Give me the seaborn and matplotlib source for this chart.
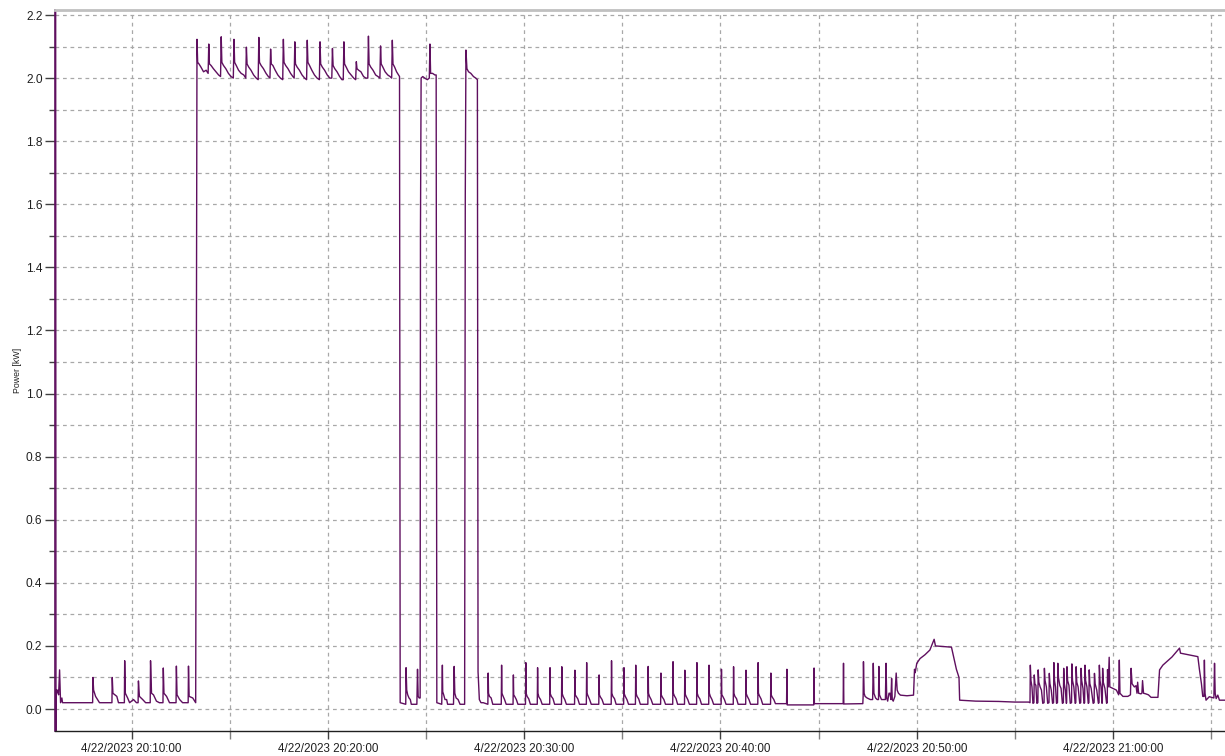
import matplotlib
matplotlib.use("Agg")
import matplotlib.pyplot as plt
import matplotlib.dates as mdates
from matplotlib.ticker import MultipleLocator, FuncFormatter
import pandas as pd
import seaborn as sns

# ---- data: (seconds after 4/22/2023 20:00:00, power in kW) ----
idle_start = [
    (368, 2.30), (369, -0.10), (370, 0.06), (371, 0.05), (374, 0.06), (377, 0.045),
    (380, 0.124), (383, 0.02), (387, 0.035), (389, 0.02), (481, 0.02), (482, 0.10),
    (484, 0.06), (490, 0.04), (502, 0.02), (540, 0.02), (541, 0.10), (543, 0.05),
    (555, 0.04), (560, 0.02), (578, 0.02), (579, 0.153), (581, 0.05), (588, 0.035),
    (594, 0.02), (606, 0.03), (615, 0.02), (620, 0.02), (621, 0.089), (624, 0.04),
    (634, 0.03), (643, 0.02), (657, 0.02), (658, 0.153), (661, 0.05), (667, 0.045),
    (676, 0.025), (685, 0.02), (696, 0.02), (697, 0.13), (699, 0.05), (707, 0.04),
    (716, 0.02), (736, 0.02), (737, 0.136), (739, 0.045), (747, 0.03), (756, 0.02),
    (773, 0.02), (774, 0.136), (776, 0.04), (787, 0.035), (796, 0.02), (798, 1.07),
]

heat_block_1 = [
    (800, 2.123), (802, 2.05), (806, 2.045), (812, 2.035), (820, 2.02), (828, 2.025), (834, 2.015),
    (836, 2.108), (838, 2.045), (843, 2.04), (850, 2.03), (858, 2.02), (866, 2.01), (872, 2.005),
    (874, 2.131), (876, 2.05), (881, 2.04), (888, 2.03), (896, 2.015), (904, 2.005), (911, 2.0),
    (913, 2.123), (915, 2.05), (920, 2.04), (927, 2.025), (935, 2.015), (943, 2.01), (949, 2.0),
    (951, 2.098), (953, 2.045), (958, 2.035), (965, 2.025), (973, 2.01), (981, 2.0), (987, 1.995),
    (989, 2.129), (991, 2.05), (996, 2.04), (1003, 2.03), (1011, 2.015), (1018, 2.005), (1023, 2.0),
    (1025, 2.092), (1027, 2.045), (1032, 2.04), (1039, 2.025), (1047, 2.01), (1055, 2.0), (1062, 1.995),
    (1064, 2.123), (1066, 2.05), (1071, 2.04), (1078, 2.03), (1086, 2.015), (1093, 2.005), (1097, 2.0),
    (1099, 2.115), (1101, 2.045), (1106, 2.035), (1113, 2.025), (1121, 2.01), (1129, 2.0), (1135, 1.995),
    (1137, 2.12), (1139, 2.05), (1144, 2.04), (1151, 2.025), (1159, 2.01), (1167, 2.0), (1174, 1.995),
    (1176, 2.115), (1178, 2.045), (1183, 2.035), (1190, 2.025), (1198, 2.01), (1206, 2.0), (1212, 2.0),
    (1214, 2.094), (1216, 2.04), (1221, 2.03), (1228, 2.02), (1236, 2.005), (1243, 1.995), (1247, 1.995),
    (1249, 2.115), (1251, 2.045), (1256, 2.035), (1263, 2.02), (1271, 2.01), (1279, 2.0), (1285, 1.995),
    (1287, 2.052), (1289, 2.03), (1294, 2.025), (1301, 2.02), (1309, 2.005), (1316, 2.0), (1322, 2.0),
    (1324, 2.133), (1326, 2.045), (1331, 2.035), (1338, 2.025), (1346, 2.01), (1353, 2.005), (1359, 2.0),
    (1361, 2.102), (1363, 2.045), (1368, 2.035), (1375, 2.02), (1383, 2.01), (1390, 2.005), (1395, 2.0),
    (1397, 2.12), (1399, 2.045), (1404, 2.035), (1410, 2.02), (1416, 2.01), (1419, 2.005),
]

gap_1 = [
    (1421, 0.02), (1438, 0.015), (1439, 0.131), (1441, 0.06), (1444, 0.045), (1448, 0.035),
    (1452, 0.03), (1455, 0.015), (1472, 0.015), (1474, 0.126), (1476, 0.04), (1479, 0.035),
    (1482, 0.035), (1483, 1.513), (1485, 2.0),
]

heat_block_2 = [
    (1490, 2.005), (1496, 2.0), (1504, 1.995), (1510, 2.0), (1512, 2.108), (1514, 2.015),
    (1520, 2.015), (1527, 2.01), (1531, 2.01), (1533, 0.02),
]

gap_2 = [
    (1548, 0.015), (1550, 0.139), (1551, 0.055), (1554, 0.045), (1558, 0.03), (1563, 0.03),
    (1566, 0.015), (1584, 0.015), (1586, 0.135), (1588, 0.05), (1592, 0.035), (1598, 0.03),
    (1604, 0.015), (1618, 0.015), (1620, 1.63), (1622, 2.089), (1625, 2.03), (1630, 2.02),
    (1637, 2.015), (1645, 2.005), (1652, 2.0), (1657, 1.995), (1659, 0.118), (1663, 0.03),
    (1668, 0.02),
]

idle_cycles = [
    (1675, 0.02), (1689, 0.015), (1690, 0.114), (1691, 0.05), (1694, 0.04), (1699, 0.035), (1704, 0.015),
    (1730, 0.015), (1731, 0.139), (1732, 0.05), (1735, 0.042), (1740, 0.03), (1745, 0.015),
    (1766, 0.015), (1767, 0.108), (1768, 0.045), (1771, 0.04), (1776, 0.03), (1781, 0.015),
    (1804, 0.015), (1805, 0.147), (1806, 0.05), (1809, 0.04), (1814, 0.032), (1819, 0.015),
    (1840, 0.015), (1841, 0.131), (1842, 0.05), (1845, 0.038), (1850, 0.03), (1855, 0.015),
    (1878, 0.015), (1879, 0.131), (1880, 0.048), (1883, 0.04), (1888, 0.033), (1893, 0.015),
    (1914, 0.015), (1915, 0.134), (1916, 0.05), (1919, 0.04), (1924, 0.03), (1929, 0.015),
    (1954, 0.015), (1955, 0.123), (1956, 0.045), (1959, 0.04), (1964, 0.032), (1969, 0.015),
    (1990, 0.015), (1991, 0.147), (1992, 0.05), (1995, 0.042), (2000, 0.03), (2005, 0.015),
    (2028, 0.015), (2029, 0.108), (2030, 0.045), (2033, 0.038), (2038, 0.03), (2043, 0.015),
    (2066, 0.015), (2067, 0.153), (2068, 0.05), (2071, 0.04), (2076, 0.033), (2081, 0.015),
    (2104, 0.015), (2105, 0.131), (2106, 0.048), (2109, 0.04), (2114, 0.03), (2119, 0.015),
    (2140, 0.015), (2141, 0.139), (2142, 0.05), (2145, 0.04), (2150, 0.032), (2155, 0.015),
    (2178, 0.015), (2179, 0.135), (2180, 0.05), (2183, 0.04), (2188, 0.03), (2193, 0.015),
    (2217, 0.015), (2218, 0.114), (2219, 0.045), (2222, 0.038), (2227, 0.03), (2232, 0.015),
    (2254, 0.015), (2255, 0.150), (2256, 0.05), (2259, 0.042), (2264, 0.033), (2269, 0.015),
    (2290, 0.015), (2291, 0.123), (2292, 0.048), (2295, 0.04), (2300, 0.03), (2305, 0.015),
    (2327, 0.015), (2328, 0.147), (2329, 0.05), (2332, 0.04), (2337, 0.032), (2342, 0.015),
    (2364, 0.015), (2365, 0.139), (2366, 0.05), (2369, 0.04), (2374, 0.03), (2379, 0.015),
    (2402, 0.015), (2403, 0.126), (2404, 0.046), (2407, 0.04), (2412, 0.03), (2417, 0.015),
    (2439, 0.015), (2440, 0.134), (2441, 0.05), (2444, 0.04), (2449, 0.033), (2454, 0.015),
    (2477, 0.015), (2478, 0.123), (2479, 0.048), (2482, 0.04), (2487, 0.03), (2492, 0.015),
    (2514, 0.015), (2515, 0.147), (2516, 0.05), (2519, 0.042), (2524, 0.032), (2529, 0.015),
    (2553, 0.015), (2554, 0.114), (2555, 0.045), (2558, 0.038), (2563, 0.03), (2568, 0.017),
    (2602, 0.017), (2603, 0.126), (2604, 0.013), (2685, 0.013), (2686, 0.13), (2687, 0.017),
    (2775, 0.017), (2776, 0.145), (2777, 0.016), (2835, 0.017),
]

warm_hump = [
    (2836, 0.04), (2837, 0.15), (2839, 0.05), (2842, 0.04), (2848, 0.035), (2858, 0.03),
    (2865, 0.03), (2867, 0.145), (2869, 0.05), (2874, 0.035), (2879, 0.03), (2883, 0.03),
    (2884, 0.135), (2886, 0.045), (2892, 0.03), (2898, 0.03), (2904, 0.03), (2906, 0.145),
    (2908, 0.035), (2911, 0.025), (2915, 0.05), (2918, 0.05), (2921, 0.03), (2923, 0.097),
    (2925, 0.03), (2928, 0.025), (2933, 0.04), (2937, 0.114), (2940, 0.06), (2944, 0.05),
    (2950, 0.044), (2970, 0.042), (2990, 0.044), (2993, 0.126), (2995, 0.115), (3000, 0.145),
    (3010, 0.16), (3025, 0.172), (3040, 0.187), (3053, 0.221), (3057, 0.2), (3080, 0.198),
    (3106, 0.196), (3121, 0.126), (3129, 0.1), (3131, 0.028), (3180, 0.025), (3250, 0.024),
    (3300, 0.022), (3342, 0.022),
]

fast_cycles = [
    (3346, 0.02), (3347, 0.139), (3349, 0.09), (3352, 0.07), (3355, 0.018),
    (3358, 0.02), (3359, 0.108), (3361, 0.08), (3364, 0.075), (3367, 0.018),
    (3370, 0.02), (3371, 0.124), (3373, 0.085), (3377, 0.07), (3381, 0.06), (3385, 0.018),
    (3389, 0.02), (3390, 0.129), (3392, 0.09), (3396, 0.07), (3400, 0.018),
    (3404, 0.02), (3405, 0.113), (3407, 0.08), (3411, 0.06), (3415, 0.018),
    (3418, 0.02), (3419, 0.147), (3421, 0.09), (3424, 0.07), (3427, 0.018),
    (3430, 0.02), (3431, 0.145), (3433, 0.1), (3437, 0.075), (3441, 0.065), (3445, 0.018),
    (3448, 0.02), (3449, 0.129), (3451, 0.08), (3454, 0.06), (3457, 0.018),
    (3458, 0.02), (3459, 0.134), (3461, 0.09), (3465, 0.075), (3469, 0.018),
    (3473, 0.02), (3474, 0.143), (3476, 0.09), (3480, 0.07), (3484, 0.018),
    (3486, 0.02), (3487, 0.134), (3489, 0.085), (3493, 0.07), (3498, 0.018),
    (3501, 0.02), (3502, 0.129), (3504, 0.09), (3508, 0.065), (3511, 0.018),
    (3513, 0.02), (3514, 0.139), (3516, 0.09), (3520, 0.07), (3524, 0.018),
    (3526, 0.02), (3527, 0.124), (3529, 0.08), (3533, 0.065), (3539, 0.018),
    (3542, 0.02), (3543, 0.113), (3545, 0.08), (3550, 0.06), (3555, 0.018),
    (3557, 0.02), (3558, 0.139), (3560, 0.09), (3563, 0.07), (3566, 0.018),
    (3567, 0.02), (3568, 0.129), (3570, 0.085), (3575, 0.065), (3580, 0.018),
    (3582, 0.02), (3583, 0.125), (3585, 0.07),
]

final_section = [
    (3588, 0.164), (3590, 0.07), (3600, 0.065), (3610, 0.06), (3617, 0.045), (3619, 0.155),
    (3621, 0.05), (3630, 0.04), (3645, 0.04), (3653, 0.045), (3655, 0.129), (3658, 0.08),
    (3665, 0.07), (3670, 0.074), (3673, 0.05), (3675, 0.085), (3678, 0.05), (3685, 0.048),
    (3688, 0.05), (3690, 0.09), (3693, 0.05), (3700, 0.048), (3708, 0.045), (3716, 0.037),
    (3737, 0.037), (3742, 0.124), (3752, 0.139), (3780, 0.165), (3803, 0.193), (3806, 0.177),
    (3830, 0.172), (3859, 0.166), (3864, 0.124), (3870, 0.08), (3874, 0.04), (3878, 0.04),
    (3879, 0.155), (3881, 0.05), (3884, 0.028), (3894, 0.039), (3908, 0.035), (3910, 0.145),
    (3912, 0.05), (3915, 0.033), (3920, 0.044), (3925, 0.028), (3945, 0.028),
]

y_label = "Power [kW]"
start_of_day = "2023-04-22 20:00:00"

# ---- build frame ----
segments = [idle_start, heat_block_1, gap_1, heat_block_2, gap_2, idle_cycles,
            warm_hump, fast_cycles, final_section]
secs, kw = [], []
for seg in segments:
    for s, v in seg:
        secs.append(s)
        kw.append(v)
base = pd.Timestamp(start_of_day)
df = pd.DataFrame({"time": base + pd.to_timedelta(secs, unit="s"), "kw": kw})

# ---- style ----
sns.set_style("white")
plt.rcParams["font.family"] = ["Liberation Sans", "DejaVu Sans"]

fig = plt.figure(figsize=(12.25, 7.56), dpi=100)
ax = fig.add_axes([55 / 1225, 25 / 756, 1170 / 1225, 721 / 756])

line_color = "#5f0f5f"
sns.lineplot(data=df, x="time", y="kw", ax=ax, color=line_color, linewidth=1.0,
             estimator=None, sort=False)

ax.set_ylim(-0.0697, 2.2159)
ax.set_xlim(base + pd.Timedelta(seconds=366), base + pd.Timedelta(seconds=3942))

ax.yaxis.set_major_locator(MultipleLocator(0.2))
ax.yaxis.set_minor_locator(MultipleLocator(0.1))
ax.yaxis.set_major_formatter(FuncFormatter(lambda v, p: f"{v:.1f}"))

ax.xaxis.set_major_locator(mdates.MinuteLocator(byminute=range(0, 60, 10)))
ax.xaxis.set_minor_locator(mdates.MinuteLocator(byminute=range(5, 60, 10)))


def fmt_time(x, pos):
    d = mdates.num2date(x)
    return f"{d.month}/{d.day}/{d.year} {d:%H:%M:%S}"


ax.xaxis.set_major_formatter(FuncFormatter(fmt_time))

grid_kw = dict(color="#a8a8a8", linewidth=0.9, linestyle=(0, (3, 3)))
ax.grid(which="major", **grid_kw)
ax.grid(which="minor", **grid_kw)
ax.set_axisbelow(True)

ax.tick_params(axis="y", which="major", length=7, width=1, color="#404040",
               labelsize=8.6, pad=2, labelcolor="#202020", direction="out", left=True)
ax.tick_params(axis="y", which="minor", length=4, width=1, color="#404040",
               direction="out", left=True)
ax.tick_params(axis="x", which="major", length=6, width=1, color="#404040",
               labelsize=8.4, pad=3, labelcolor="#202020", direction="out", bottom=True)
ax.tick_params(axis="x", which="minor", length=6, width=1, color="#808080",
               direction="out", bottom=True)

for side in ("left", "bottom"):
    ax.spines[side].set_visible(True)
ax.spines["left"].set_color(line_color)
ax.spines["left"].set_linewidth(1.2)
ax.spines["bottom"].set_color("#202020")
ax.spines["bottom"].set_linewidth(1.0)
ax.spines["top"].set_color("#c0c0c0")
ax.spines["top"].set_linewidth(2.0)
ax.spines["right"].set_visible(False)

ax.set_xlabel("")
ax.set_ylabel(y_label, fontsize=6.3, color="#202020")
ax.yaxis.set_label_coords(-33 / 1170, 0.5)

fig.savefig("out.png", dpi=100)
